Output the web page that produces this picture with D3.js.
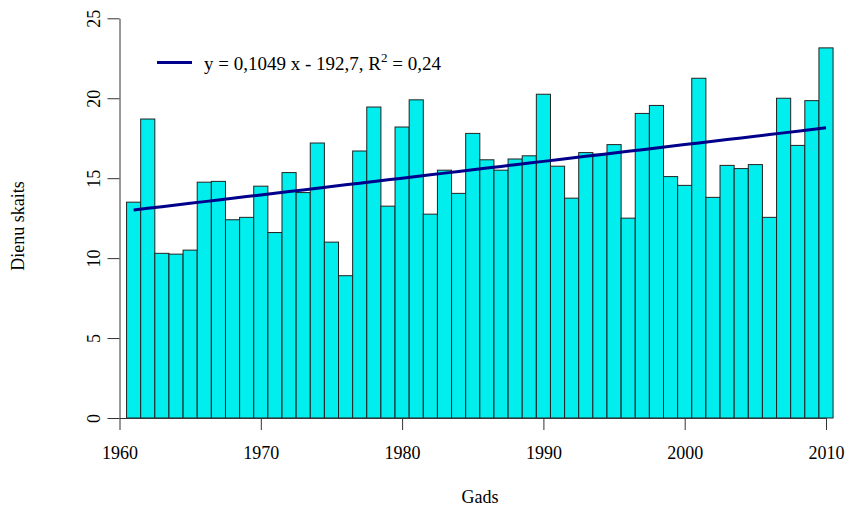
<!DOCTYPE html>
<html>
<head>
<meta charset="utf-8">
<script src="https://cdn.jsdelivr.net/npm/d3@7"></script>
<style>
  html, body { margin: 0; padding: 0; background: #fff; }
  svg { display: block; }
  text { font-family: "Liberation Serif", "DejaVu Serif", serif; fill: #000; }
</style>
</head>
<body>
<svg id="chart" width="846" height="506"></svg>
<script>
const years = d3.range(1961, 2011);
const values = [
  13.5, 18.7, 10.3, 10.25, 10.5, 14.75, 14.8, 12.4, 12.55, 14.5,
  11.6, 15.35, 14.1, 17.2, 11.0, 8.9, 16.7, 19.45, 13.25, 18.2,
  19.9, 12.75, 15.5, 14.05, 17.8, 16.15, 15.5, 16.2, 16.4, 20.25,
  15.75, 13.75, 16.6, 16.5, 17.1, 12.5, 19.05, 19.55, 15.1, 14.55,
  21.25, 13.8, 15.8, 15.6, 15.85, 12.55, 20.0, 17.05, 19.85, 23.15
];
const xTicks = [1960, 1970, 1980, 1990, 2000, 2010];
const yTicks = [0, 5, 10, 15, 20, 25];
const trendSlope = 0.1049;
const trendIntercept = -192.7;
const legendText = ["y = 0,1049 x - 192,7, R", "2", " = 0,24"];
const xLabel = "Gads";
const yLabel = "Dienu skaits";

const svg = d3.select("#chart");
const x = d3.scaleLinear().domain([1960, 2010]).range([119.5, 826]);
const y = d3.scaleLinear().domain([0, 25]).range([418, 18.3]);

// bars
svg.append("g").selectAll("rect")
  .data(years.map((yr, i) => ({ yr, v: values[i] })))
  .join("rect")
  .attr("x", d => x(d.yr - 0.5))
  .attr("width", d => x(d.yr + 0.5) - x(d.yr - 0.5))
  .attr("y", d => y(d.v))
  .attr("height", d => y(0) - y(d.v))
  .attr("fill", "#00EEEE")
  .attr("stroke", "#222")
  .attr("stroke-width", 1);

// trend line
const trend = years.map(yr => [yr, trendSlope * yr + trendIntercept]);
svg.append("path")
  .datum(trend)
  .attr("d", d3.line().x(d => x(d[0])).y(d => y(d[1])))
  .attr("fill", "none")
  .attr("stroke", "#00008B")
  .attr("stroke-width", 3);

// x axis
const xAxis = d3.axisBottom(x).tickValues(xTicks).tickFormat(d3.format("d"))
  .tickSize(12).tickSizeOuter(0).tickPadding(16);
const gx = svg.append("g").attr("transform", `translate(0,${y(0)})`).call(xAxis);
gx.select(".domain").attr("stroke", "#333");
gx.selectAll(".tick line").attr("stroke", "#333");
gx.selectAll("text").style("font-size", "18px").style("font-family", "Liberation Serif");

// y axis
const yAxis = d3.axisLeft(y).tickValues(yTicks).tickSize(12).tickSizeOuter(0).tickPadding(0);
const gy = svg.append("g").attr("transform", `translate(${x(1960)},0)`).call(yAxis);
gy.select(".domain").attr("stroke", "#333");
gy.selectAll(".tick line").attr("stroke", "#333");
gy.selectAll(".tick text")
  .attr("x", null).attr("dy", null)
  .attr("text-anchor", "middle")
  .attr("transform", "translate(-26,0) rotate(-90)")
  .attr("dy", "0.35em")
  .style("font-size", "18px").style("font-family", "Liberation Serif");

// axis titles
svg.append("text").attr("x", 480).attr("y", 503).attr("text-anchor", "middle")
  .style("font-size", "18px").text(xLabel);
svg.append("text").attr("transform", "translate(24,226) rotate(-90)")
  .attr("text-anchor", "middle").style("font-size", "18px").text(yLabel);

// legend
svg.append("line").attr("x1", 157).attr("x2", 192).attr("y1", 62.5).attr("y2", 62.5)
  .attr("stroke", "#00008B").attr("stroke-width", 3);
const lt = svg.append("text").attr("x", 204).attr("y", 69.5).style("font-size", "19px");
lt.append("tspan").text(legendText[0]);
lt.append("tspan").attr("dy", -8).style("font-size", "13px").text(legendText[1]);
lt.append("tspan").attr("dy", 8).text(legendText[2]);
</script>
</body>
</html>
